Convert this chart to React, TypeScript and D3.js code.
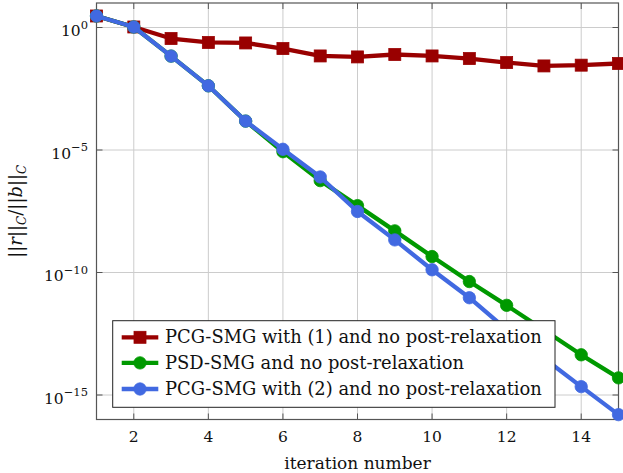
import React from "react";
import * as d3 from "d3";

const iterations = [1, 2, 3, 4, 5, 6, 7, 8, 9, 10, 11, 12, 13, 14, 15];
const pcgSmg1 = [2.95, 1.05, 3.55e-1, 2.45e-1, 2.34e-1, 1.38e-1, 6.9e-2, 6.3e-2, 7.9e-2, 6.9e-2, 5.4e-2, 3.7e-2, 2.7e-2, 2.9e-2, 3.4e-2];
const psdSmg = [2.95, 1.05, 6.8e-2, 4.17e-3, 1.51e-4, 8.51e-6, 5.62e-7, 5.37e-8, 5.01e-9, 4.47e-10, 4.27e-11, 4.57e-12, 4.47e-13, 4.37e-14, 5.01e-15];
const pcgSmg2 = [2.95, 1.05, 6.8e-2, 4.17e-3, 1.51e-4, 1.07e-5, 7.94e-7, 3.09e-8, 2.14e-9, 1.29e-10, 9.33e-12, 4.68e-13, 3.16e-14, 2.19e-15, 1.58e-16];
const xTicks = [2, 4, 6, 8, 10, 12, 14];
const yTickExps = [0, -5, -10, -15];
const legendLabels = [
  "PCG-SMG with (1) and no post-relaxation",
  "PSD-SMG and no post-relaxation",
  "PCG-SMG with (2) and no post-relaxation",
];

const FONT = "DejaVu Serif";

export default function App() {
  const W = 623, H = 473;
  const L = 96.5, R = 618.5, T = 3, B = 419.5;
  const x = d3.scaleLinear().domain([1, 15]).range([L, R]);
  const y = d3.scaleLog().domain([1e-16, 1e1]).range([B, T]);

  const series = [
    { name: legendLabels[0], values: pcgSmg1, color: "#990000", marker: "square" },
    { name: legendLabels[1], values: psdSmg, color: "#009900", marker: "circle" },
    { name: legendLabels[2], values: pcgSmg2, color: "#4169e1", marker: "circle" },
  ];

  const line = d3
    .line<number>()
    .x((_, i) => x(iterations[i]))
    .y((d) => y(d));

  const marker = (type: string, cx: number, cy: number, color: string, key: any) =>
    type === "square" ? (
      <rect key={key} x={cx - 6} y={cy - 6} width={12} height={12} fill={color} stroke={color} strokeWidth={0.8} />
    ) : (
      <circle key={key} cx={cx} cy={cy} r={6.2} fill={color} stroke={color} strokeWidth={0.8} />
    );

  const legX = 112.7, legY = 320.7, legW = 442.3, legH = 86.6;
  const legRows = [337.3, 362.9, 389.0];

  return (
    <svg width={W} height={H} style={{ position: "absolute", left: 0, top: 0, background: "#fff" }}>
      <rect x={0} y={0} width={W} height={H} fill="#fff" />
      {xTicks.map((t) => (
        <line key={"gx" + t} x1={x(t)} x2={x(t)} y1={T} y2={B} stroke="#cccccc" strokeWidth={1} />
      ))}
      {yTickExps.map((e) => (
        <line key={"gy" + e} x1={L} x2={R} y1={y(Math.pow(10, e))} y2={y(Math.pow(10, e))} stroke="#cccccc" strokeWidth={1} />
      ))}
      {xTicks.map((t) => (
        <g key={"tx" + t}>
          <line x1={x(t)} x2={x(t)} y1={B} y2={B - 6} stroke="#555" strokeWidth={1} />
          <line x1={x(t)} x2={x(t)} y1={T} y2={T + 6} stroke="#555" strokeWidth={1} />
          <text x={x(t)} y={441.5} style={{ fontFamily: FONT, fontSize: 15.5 }} textAnchor="middle" fill="#111">
            {t}
          </text>
        </g>
      ))}
      {yTickExps.map((e) => {
        const yy = y(Math.pow(10, e));
        return (
          <g key={"ty" + e}>
            <line x1={L} x2={L + 6} y1={yy} y2={yy} stroke="#555" strokeWidth={1} />
            <line x1={R} x2={R - 6} y1={yy} y2={yy} stroke="#555" strokeWidth={1} />
            <text x={88} y={yy + 8.5} style={{ fontFamily: FONT, fontSize: 15.5 }} textAnchor="end" fill="#111">
              10
              <tspan style={{ fontSize: 11.5 }} dy={-7.5}>
                {e === 0 ? "0" : "\u2212" + Math.abs(e)}
              </tspan>
            </text>
          </g>
        );
      })}
      <rect x={L} y={T} width={R - L} height={B - T} fill="none" stroke="#555" strokeWidth={1.2} />
      {series.map((s, si) => (
        <g key={"s" + si}>
          <path d={line(s.values) || ""} fill="none" stroke={s.color} strokeWidth={4.3} strokeLinejoin="round" />
          {s.values.map((v, i) => marker(s.marker, x(iterations[i]), y(v), s.color, i))}
        </g>
      ))}
      <rect x={legX} y={legY} width={legW} height={legH} fill="#fff" stroke="#222" strokeWidth={1} />
      {series.map((s, i) => (
        <g key={"l" + i}>
          <line x1={121.7} x2={158.3} y1={legRows[i]} y2={legRows[i]} stroke={s.color} strokeWidth={4.3} />
          {marker(s.marker, 140, legRows[i], s.color, "m")}
          <text x={165} y={legRows[i] + 6} style={{ fontFamily: FONT, fontSize: 17.9 }} fill="#111">
            {s.name}
          </text>
        </g>
      ))}
      <text x={(L + R) / 2} y={469} style={{ fontFamily: FONT, fontSize: 17 }} textAnchor="middle" fill="#111">
        iteration number
      </text>
      <text transform={`translate(22, ${(T + B) / 2}) rotate(-90)`} style={{ fontFamily: FONT, fontSize: 18 }} textAnchor="middle" fill="#111">
        ||<tspan fontStyle="italic">r</tspan>||
        <tspan fontStyle="italic" style={{ fontSize: 12 }} dy={4}>C</tspan>
        <tspan dy={-4}>/||</tspan>
        <tspan fontStyle="italic">b</tspan>||
        <tspan fontStyle="italic" style={{ fontSize: 12 }} dy={4}>C</tspan>
      </text>
    </svg>
  );
}
